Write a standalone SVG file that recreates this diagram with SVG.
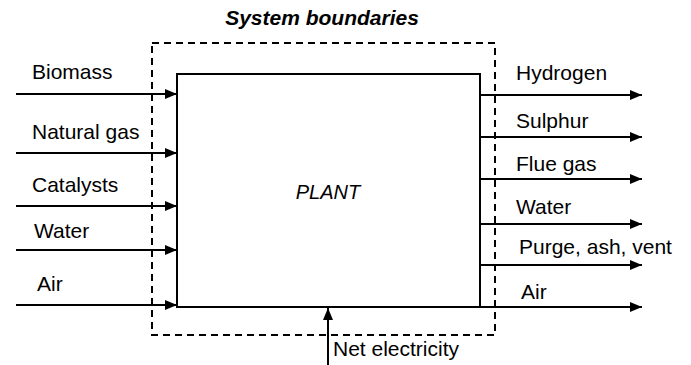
<svg xmlns="http://www.w3.org/2000/svg" width="691" height="365" viewBox="0 0 691 365">
<style>
text{font-family:"Liberation Sans",Arial,sans-serif;font-size:21px;fill:#000}
.title{font-weight:bold;font-style:italic;font-size:21px}
.it{font-style:italic;font-size:20px}
.ln{stroke:#000;stroke-width:2;fill:none}
.dash{stroke:#000;stroke-width:2;fill:none;stroke-dasharray:7 5}
</style>
<defs>
<marker id="ah" markerWidth="12" markerHeight="10" refX="12" refY="5" orient="auto" markerUnits="userSpaceOnUse">
<path d="M0,0 L12,5 L0,10 Z" fill="#000"/>
</marker>
</defs>
<rect width="691" height="365" fill="#fff"/>
<g id="boundary">
<rect class="dash" x="152" y="43" width="343" height="292"/>
<text class="title" x="322" y="25" text-anchor="middle">System boundaries</text>
</g>
<g id="plant">
<rect class="ln" x="177" y="74" width="303" height="233"/>
<text class="it" x="328" y="199" text-anchor="middle">PLANT</text>
</g>
<g id="connectors">
<line class="ln" x1="16" y1="94" x2="177" y2="94" marker-end="url(#ah)"/>
<line class="ln" x1="16" y1="153" x2="177" y2="153" marker-end="url(#ah)"/>
<line class="ln" x1="16" y1="206" x2="177" y2="206" marker-end="url(#ah)"/>
<line class="ln" x1="16" y1="250" x2="177" y2="250" marker-end="url(#ah)"/>
<line class="ln" x1="16" y1="305" x2="177" y2="305" marker-end="url(#ah)"/>
<line class="ln" x1="480" y1="95" x2="642" y2="95" marker-end="url(#ah)"/>
<line class="ln" x1="480" y1="137" x2="642" y2="137" marker-end="url(#ah)"/>
<line class="ln" x1="480" y1="179" x2="642" y2="179" marker-end="url(#ah)"/>
<line class="ln" x1="480" y1="224" x2="642" y2="224" marker-end="url(#ah)"/>
<line class="ln" x1="480" y1="265" x2="642" y2="265" marker-end="url(#ah)"/>
<line class="ln" x1="480" y1="307" x2="642" y2="307" marker-end="url(#ah)"/>
<line class="ln" x1="328" y1="365" x2="328" y2="308" marker-end="url(#ah)"/>
</g>
<g id="labels-in">
<text x="32" y="79">Biomass</text>
<text x="32" y="139">Natural gas</text>
<text x="32" y="192">Catalysts</text>
<text x="34" y="238">Water</text>
<text x="37" y="291">Air</text>
</g>
<g id="labels-out">
<text x="516" y="80">Hydrogen</text>
<text x="516" y="128">Sulphur</text>
<text x="516" y="171">Flue gas</text>
<text x="516" y="214">Water</text>
<text x="519" y="254">Purge, ash, vent</text>
<text x="521" y="299">Air</text>
<text x="333" y="356">Net electricity</text>
</g>
</svg>
